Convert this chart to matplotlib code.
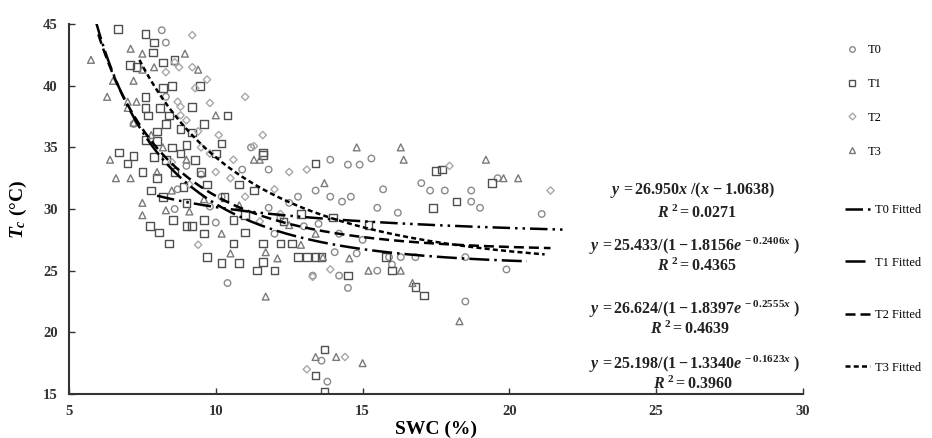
import numpy as np
import matplotlib
matplotlib.use('Agg')
import matplotlib.pyplot as plt
from matplotlib.lines import Line2D

# Scatter data (SWC %, Tc degC)
t0_x = [8.16, 8.3, 8.3, 7.2, 10.9, 11.8, 11.2, 8.6, 10.0, 10.4, 11.8, 9.0, 8.7, 9.5, 10.2,
        9.8, 12.5, 12.2, 13.0, 12.8, 13.9, 14.5, 14.9, 15.3, 13.4, 13.9, 14.6, 14.3, 15.7,
        17.0, 17.3, 17.8, 18.7, 19.6, 18.7, 19.0, 15.5, 16.2, 21.1, 19.9, 18.5, 14.5, 13.3,
        14.2, 15.5, 16.0, 14.05, 14.8, 15.9, 16.3, 18.5, 16.8, 13.6, 13.8, 12.0, 13.5, 14.2, 15.0]
t0_y = [44.5, 43.5, 39.1, 36.9, 33.2, 33.2, 35.0, 30.0, 28.9, 24.0, 30.1, 33.5, 31.6, 32.8, 31.0,
        30.2, 30.5, 29.3, 28.6, 31.0, 34.0, 33.6, 33.6, 34.1, 31.5, 31.0, 31.0, 30.6, 31.6,
        32.1, 31.5, 31.5, 31.5, 32.5, 30.6, 30.1, 30.1, 29.7, 29.6, 25.1, 22.5, 23.6, 24.6,
        24.6, 25.0, 25.5, 26.5, 26.4, 26.1, 26.1, 26.1, 26.1, 17.7, 16.0, 28.0, 28.8, 28.0, 27.5]

t1_x = [6.67, 7.6, 7.9, 7.86, 8.2, 8.6, 7.07, 7.3, 9.46, 8.2, 8.5, 7.6, 9.2, 7.6, 8.1, 7.7,
        8.4, 10.4, 8.3, 9.6, 11.6, 13.4, 6.7, 7.0, 7.2, 7.6, 8.0, 8.5, 9.0, 8.8, 9.3, 7.5,
        8.0, 8.6, 9.5, 10.0, 7.8, 8.2, 8.9, 9.7, 10.3, 9.0, 7.9, 8.3, 9.2, 8.8, 8.0, 10.2,
        10.8, 11.3, 7.75, 8.06, 8.4, 8.55, 9.0, 9.2, 9.6, 9.6, 9.7, 10.6, 10.6, 10.2, 10.8,
        11.0, 11.4, 11.6, 11.6, 12.0, 12.2, 12.6, 12.8, 13.1, 13.4, 11.6, 17.5, 17.7, 17.4,
        18.2, 19.4, 14.5, 16.0, 15.8, 13.6, 16.8, 17.1, 13.7, 13.4, 13.7, 11.0, 12.3, 12.9,
        14.0, 15.2]
t1_y = [44.6, 44.2, 43.5, 42.7, 41.9, 42.1, 41.7, 41.5, 40.0, 39.8, 40.0, 39.1, 38.3, 38.2,
        38.2, 37.6, 37.6, 37.6, 36.9, 36.9, 34.4, 33.7, 34.6, 33.7, 34.3, 35.6, 35.5, 35.0,
        35.2, 34.5, 34.0, 33.0, 32.5, 33.0, 33.0, 34.5, 31.5, 31.0, 31.8, 32.0, 31.0, 30.5,
        34.2, 34.0, 36.2, 36.5, 36.3, 35.3, 32.0, 31.5, 28.6, 28.1, 27.2, 29.1, 28.6, 28.6,
        28.0, 29.1, 26.1, 29.1, 27.2, 25.6, 25.6, 28.1, 25.0, 25.7, 27.2, 25.0, 27.2, 27.2,
        26.1, 26.1, 26.1, 34.6, 33.1, 33.2, 30.1, 30.6, 32.1, 24.6, 25.0, 26.1, 26.1, 23.7,
        23.0, 18.6, 16.5, 15.2, 29.5, 29.0, 29.6, 29.3, 28.7]

t2_x = [9.2, 8.6, 8.3, 8.75, 9.2, 8.7, 9.8, 11.0, 8.8, 8.8, 9.0, 9.4, 10.1, 11.6, 11.3,
        10.6, 13.1, 9.4, 13.3, 13.9, 14.4, 13.1, 17.96, 21.4, 9.5, 10.0, 9.8, 10.5, 9.1,
        11.0, 12.0, 12.5, 8.5, 9.3, 9.7, 12.2, 11.5]
t2_y = [44.1, 41.9, 41.1, 41.5, 41.5, 38.7, 38.6, 39.1, 38.3, 37.6, 37.2, 36.3, 36.0, 36.0,
        35.1, 34.0, 33.2, 27.1, 24.5, 25.1, 18.0, 17.0, 33.5, 31.5, 35.0, 33.0, 34.5, 32.5,
        32.0, 31.0, 31.6, 33.0, 33.8, 39.8, 40.5, 29.6, 29.0]

t3_x = [5.75, 7.1, 7.5, 8.95, 7.5, 7.9, 9.4, 6.5, 7.2, 6.3, 7.0, 7.3, 7.0, 10.0, 7.2, 11.3,
        6.4, 6.6, 7.1, 11.5, 7.5, 7.5, 8.3, 9.1, 10.2, 10.5, 11.7, 11.7, 12.1, 12.9, 14.8,
        16.3, 16.4, 19.2, 13.7, 19.8, 20.3, 15.2, 16.3, 14.55, 13.65, 16.7, 18.3, 13.4, 14.1,
        15.0, 8.0, 8.5, 9.6, 7.8, 8.2, 9.0, 10.8, 12.5, 13.4]
t3_y = [42.1, 43.0, 42.6, 42.6, 41.3, 41.5, 41.3, 40.4, 40.4, 39.1, 38.7, 38.7, 38.2, 37.6,
        37.0, 34.0, 34.0, 32.5, 32.5, 34.0, 30.5, 29.5, 29.9, 29.8, 28.0, 26.4, 22.9, 26.5,
        26.0, 27.1, 35.0, 35.0, 34.0, 34.0, 32.1, 32.5, 32.5, 25.0, 25.0, 26.0, 26.1, 24.0,
        20.9, 18.0, 18.0, 17.5, 33.0, 31.5, 30.8, 36.0, 35.0, 34.0, 30.3, 28.7, 28.0]

# Fitted equations printed on the chart
t0_fit = [26.950, 1.0638]                 # y = a x / (x - b)
t1_fit = [25.433, 1.8156, 0.2406]         # y = a / (1 - b e^(-c x))
t2_fit = [26.624, 1.8397, 0.2555]
t3_fit = [25.198, 1.3340, 0.1623]
fit_ranges = [(8.0, 21.9), (5.9, 20.6), (6.0, 21.4), (7.4, 21.2)]

plt.rcParams['font.family'] = 'Liberation Serif'
plt.rcParams['font.weight'] = 'bold'
plt.rcParams['mathtext.fontset'] = 'custom'
plt.rcParams['mathtext.rm'] = 'Liberation Serif:bold'
plt.rcParams['mathtext.it'] = 'Liberation Serif:italic:bold'
plt.rcParams['mathtext.bf'] = 'Liberation Serif:bold'

fig = plt.figure(figsize=(9.32, 4.38), dpi=100)
ax = fig.add_axes([0.074, 0.1005, 0.7876, 0.8445])

ax.scatter(t0_x, t0_y, marker='o', s=22, facecolors='none', edgecolors='#8a8a8a', linewidths=1.0)
ax.scatter(t1_x, t1_y, marker='s', s=30, facecolors='none', edgecolors='#505050', linewidths=1.0)
ax.scatter(t2_x, t2_y, marker='D', s=14, facecolors='none', edgecolors='#a8a8a8', linewidths=1.0)
ax.scatter(t3_x, t3_y, marker='^', s=24, facecolors='none', edgecolors='#7a7a7a', linewidths=1.0)

styles = [(0, (7, 2, 1, 2, 1, 2)), (0, (8, 2, 1, 2)), (0, (4, 2)), (0, (2, 1.3))]

xs = np.linspace(*fit_ranges[0], 200)
ax.plot(xs, t0_fit[0] * xs / (xs - t0_fit[1]), color='black', lw=1.8, ls=styles[0])
for fit, rng, st in zip([t1_fit, t2_fit, t3_fit], fit_ranges[1:], styles[1:]):
    xs = np.linspace(*rng, 200)
    ax.plot(xs, fit[0] / (1 - fit[1] * np.exp(-fit[2] * xs)), color='black', lw=1.8, ls=st)

ax.set_xlim(5, 30)
ax.set_ylim(15, 45)
ax.set_xticks([5, 10, 15, 20, 25, 30])
ax.set_yticks([15, 20, 25, 30, 35, 40, 45])
for side in ['top', 'right']:
    ax.spines[side].set_visible(False)
for side in ['left', 'bottom']:
    ax.spines[side].set_linewidth(1.5)
    ax.spines[side].set_color('#333333')
ax.tick_params(axis='both', direction='in', length=4, width=1, labelsize=10.5, colors='#333333')
ax.tick_params(axis='x', pad=8)
ax.tick_params(axis='y', pad=8)
ax.set_xlabel('SWC (%)', fontsize=14, fontweight='bold', labelpad=2)
ax.set_ylabel(r'$T_c$ (°C)', fontsize=14, fontweight='bold', labelpad=10)

# equations
eqs = [(692, 190, r'$y\,=26.950x\;/(x\,-1.0638)$'), (697, 213, r'$R^{\;2}=0.0271$'),
       (694, 246, r'$y\,=25.433/(1-1.8156e^{\,-0.2406x}\;)$'), (697, 266, r'$R^{\;2}=0.4365$'),
       (694, 309, r'$y\,=26.624/(1-1.8397e^{\,-0.2555x}\;)$'), (690, 329, r'$R^{\;2}=0.4639$'),
       (694, 364, r'$y\,=25.198/(1-1.3340e^{\,-0.1623x}\;)$'), (693, 384, r'$R^{\;2}=0.3960$')]
for px, py, s in eqs:
    fig.text(px / 932, 1 - py / 438, s, ha='center', va='center', fontsize=11.5, color='#222222')

# legends
mk_handles = [
    Line2D([], [], ls='none', marker='o', ms=4, mfc='none', mec='#8a8a8a'),
    Line2D([], [], ls='none', marker='s', ms=4.5, mfc='none', mec='#505050'),
    Line2D([], [], ls='none', marker='D', ms=3.5, mfc='none', mec='#a8a8a8'),
    Line2D([], [], ls='none', marker='^', ms=4.5, mfc='none', mec='#7a7a7a'),
]
leg1 = fig.legend(mk_handles, ['T0', 'T1', 'T2', 'T3'], loc='upper left',
                  bbox_to_anchor=(0.895, 0.925), frameon=False,
                  handlelength=1.0, handletextpad=0.8, labelspacing=1.75,
                  prop={'family': 'Liberation Serif', 'weight': 'normal', 'size': 9})
ln_handles = [Line2D([], [], color='black', lw=1.8, ls=st) for st in styles]
leg2 = fig.legend(ln_handles, ['T0 Fitted', 'T1 Fitted', 'T2 Fitted', 'T3 Fitted'],
                  loc='upper left', bbox_to_anchor=(0.895, 0.56), frameon=False,
                  handlelength=2.0, handletextpad=0.4, labelspacing=3.25,
                  prop={'family': 'Liberation Serif', 'weight': 'normal', 'size': 9})

fig.savefig('out.png', dpi=100)
